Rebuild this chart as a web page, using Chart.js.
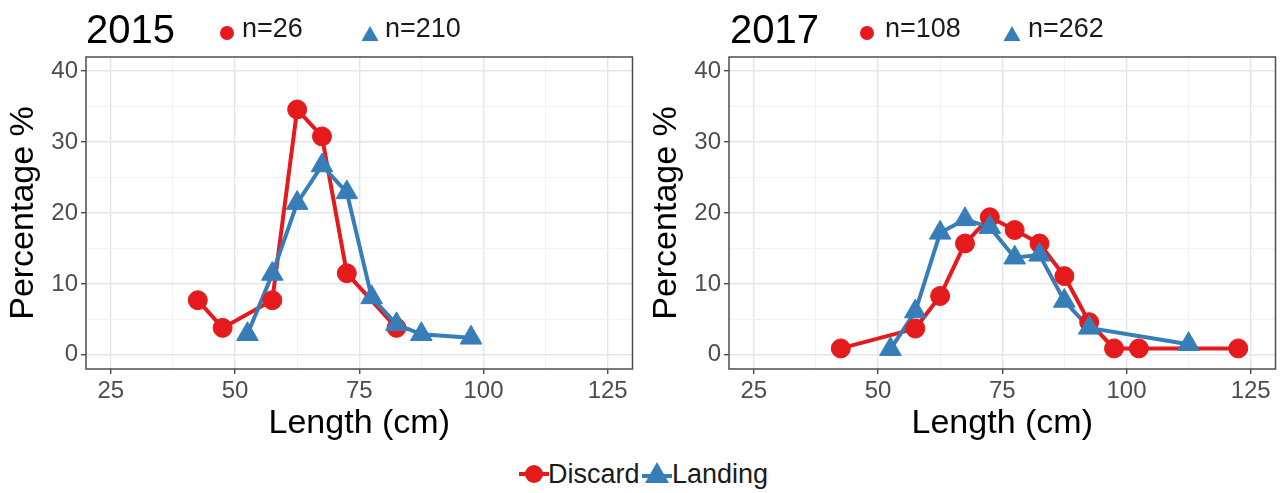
<!DOCTYPE html>
<html>
<head>
<meta charset="utf-8">
<script src="https://cdn.jsdelivr.net/npm/chart.js@4/dist/chart.umd.min.js"></script>
<style>
body { margin: 0; background: #fff; width: 1287px; height: 493px; overflow: hidden; position: relative;
       font-family: "Liberation Sans", Arial, sans-serif; }
.panel { position: absolute; top: 0; width: 646px; height: 450px; }
.txt { position: absolute; white-space: nowrap; color: #1a1a1a; }
.year { font-size: 40px; line-height: 40px; top: 9px; color: #000; }
.n { font-size: 27px; line-height: 27px; top: 15px; }
.sym { position: absolute; }
.leg { font-size: 27px; line-height: 27px; top: 461px; }
</style>
</head>
<body>

<div class="panel" style="left:0"><canvas id="c2015" width="646" height="450"></canvas></div>
<div class="panel" style="left:643px"><canvas id="c2017" width="646" height="450"></canvas></div>

<!-- panel headings -->
<div class="txt year" style="left:86px">2015</div>
<svg class="sym" style="left:219px;top:25px" width="16" height="16"><circle cx="8" cy="8" r="7" fill="#E41A1C"/></svg>
<div class="txt n" style="left:242px">n=26</div>
<svg class="sym" style="left:361px;top:25px" width="18" height="17"><polygon points="9,1 17.5,16 0.5,16" fill="#377EB8"/></svg>
<div class="txt n" style="left:385px">n=210</div>

<div class="txt year" style="left:730px">2017</div>
<svg class="sym" style="left:859px;top:25px" width="16" height="16"><circle cx="8" cy="8" r="7" fill="#E41A1C"/></svg>
<div class="txt n" style="left:885px">n=108</div>
<svg class="sym" style="left:1003px;top:25px" width="18" height="17"><polygon points="9,1 17.5,16 0.5,16" fill="#377EB8"/></svg>
<div class="txt n" style="left:1028px">n=262</div>

<!-- shared legend -->
<svg class="sym" style="left:519px;top:463px" width="30" height="22">
  <line x1="0" y1="11" x2="30" y2="11" stroke="#E41A1C" stroke-width="4"/>
  <circle cx="15" cy="11" r="9" fill="#E41A1C"/>
</svg>
<div class="txt leg" style="left:548px">Discard</div>
<svg class="sym" style="left:642px;top:461px" width="30" height="24">
  <line x1="0" y1="15" x2="30" y2="15" stroke="#377EB8" stroke-width="4"/>
  <polygon points="15,1 27,22 3,22" fill="#377EB8"/>
</svg>
<div class="txt leg" style="left:672px">Landing</div>

<script>
// length bins (cm) and percentages
const bins2015Discard = [42.5, 47.5, 57.5, 62.5, 67.5, 72.5, 82.5];
const discard2015 = [7.7, 3.8, 7.7, 34.6, 30.8, 11.5, 3.8];
const bins2015Landing = [52.5, 57.5, 62.5, 67.5, 72.5, 77.5, 82.5, 87.5, 97.5];
const landing2015 = [2.9, 11.4, 21.4, 26.7, 22.9, 8.1, 4.3, 2.9, 2.4];

const bins2017Discard = [42.5, 57.5, 62.5, 67.5, 72.5, 77.5, 82.5, 87.5, 92.5, 97.5, 102.5, 122.5];
const discard2017 = [0.9, 3.7, 8.3, 15.7, 19.4, 17.6, 15.7, 11.1, 4.6, 0.9, 0.9, 0.9];
const bins2017Landing = [52.5, 57.5, 62.5, 67.5, 72.5, 77.5, 82.5, 87.5, 92.5, 112.5];
const landing2017 = [0.8, 6.1, 17.2, 19.1, 18.0, 13.7, 14.1, 7.6, 3.8, 1.5];

const xMajor = [25, 50, 75, 100, 125];
const xMinor = [37.5, 62.5, 87.5, 112.5];
const yMajor = [0, 10, 20, 30, 40];
const yMinor = [5, 15, 25, 35];

const RED = '#E41A1C';
const BLUE = '#377EB8';

Chart.defaults.font.family = '"Liberation Sans", Arial, sans-serif';

function pts(xs, ys) {
  return xs.map((x, i) => ({x: x, y: ys[i]}));
}

// full box around the panel, like theme_bw
const panelBorder = {
  id: 'panelBorder',
  afterDraw(chart) {
    const a = chart.chartArea;
    const ctx = chart.ctx;
    ctx.save();
    ctx.strokeStyle = '#4d4d4d';
    ctx.lineWidth = 1.5;
    ctx.strokeRect(a.left, a.top, a.right - a.left, a.bottom - a.top);
    ctx.restore();
  }
};

function gridOpts(major) {
  return {
    color: c => major.includes(c.tick && c.tick.value) ? '#e6e6e6' : '#f2f2f2',
    lineWidth: c => major.includes(c.tick && c.tick.value) ? 1.4 : 1,
    tickColor: c => major.includes(c.tick && c.tick.value) ? '#4d4d4d' : 'rgba(0,0,0,0)',
    tickLength: 5,
    tickWidth: 1.4
  };
}

function makeChart(id, binsD, discard, binsL, landing) {
  new Chart(document.getElementById(id), {
    type: 'line',
    data: {
      datasets: [
        // lines first (underneath), points on top, as in ggplot
        {label: 'Discard', data: pts(binsD, discard), borderColor: RED, borderWidth: 4,
         pointRadius: 0, order: 4},
        {label: 'Landing', data: pts(binsL, landing), borderColor: BLUE, borderWidth: 4,
         pointRadius: 0, order: 3},
        {label: 'Discard', data: pts(binsD, discard), showLine: false, pointStyle: 'circle',
         pointRadius: 9.5, backgroundColor: RED, borderColor: RED, borderWidth: 1, order: 2},
        {label: 'Landing', data: pts(binsL, landing), showLine: false, pointStyle: 'triangle',
         pointRadius: 12.5, backgroundColor: BLUE, borderColor: BLUE, borderWidth: 1, order: 1}
      ]
    },
    options: {
      responsive: false,
      animation: false,
      layout: {padding: {top: 57, right: 12, left: 0, bottom: 0}},
      plugins: {legend: {display: false}, tooltip: {enabled: false}},
      scales: {
        x: {
          type: 'linear', min: 20, max: 130,
          afterBuildTicks: s => { s.ticks = xMajor.concat(xMinor).sort((a, b) => a - b).map(v => ({value: v})); },
          afterFit: s => { s.height = 81; },
          ticks: {color: '#4d4d4d', font: {size: 24}, maxRotation: 0, padding: 3,
                  callback: v => xMajor.includes(v) ? v : ''},
          grid: gridOpts(xMajor),
          border: {display: false},
          title: {display: true, text: 'Length (cm)', color: '#000', font: {size: 34},
                  padding: {top: 0, bottom: 6}}
        },
        y: {
          min: -2, max: 42,
          afterBuildTicks: s => { s.ticks = yMajor.concat(yMinor).sort((a, b) => a - b).map(v => ({value: v})); },
          afterFit: s => { s.width = 86; },
          ticks: {color: '#4d4d4d', font: {size: 24}, padding: 3,
                  callback: v => yMajor.includes(v) ? v : ''},
          grid: gridOpts(yMajor),
          border: {display: false},
          title: {display: true, text: 'Percentage %', color: '#000', font: {size: 34},
                  padding: {top: 3, bottom: 0}}
        }
      }
    },
    plugins: [panelBorder]
  });
}

makeChart('c2015', bins2015Discard, discard2015, bins2015Landing, landing2015);
makeChart('c2017', bins2017Discard, discard2017, bins2017Landing, landing2017);
</script>
</body>
</html>
